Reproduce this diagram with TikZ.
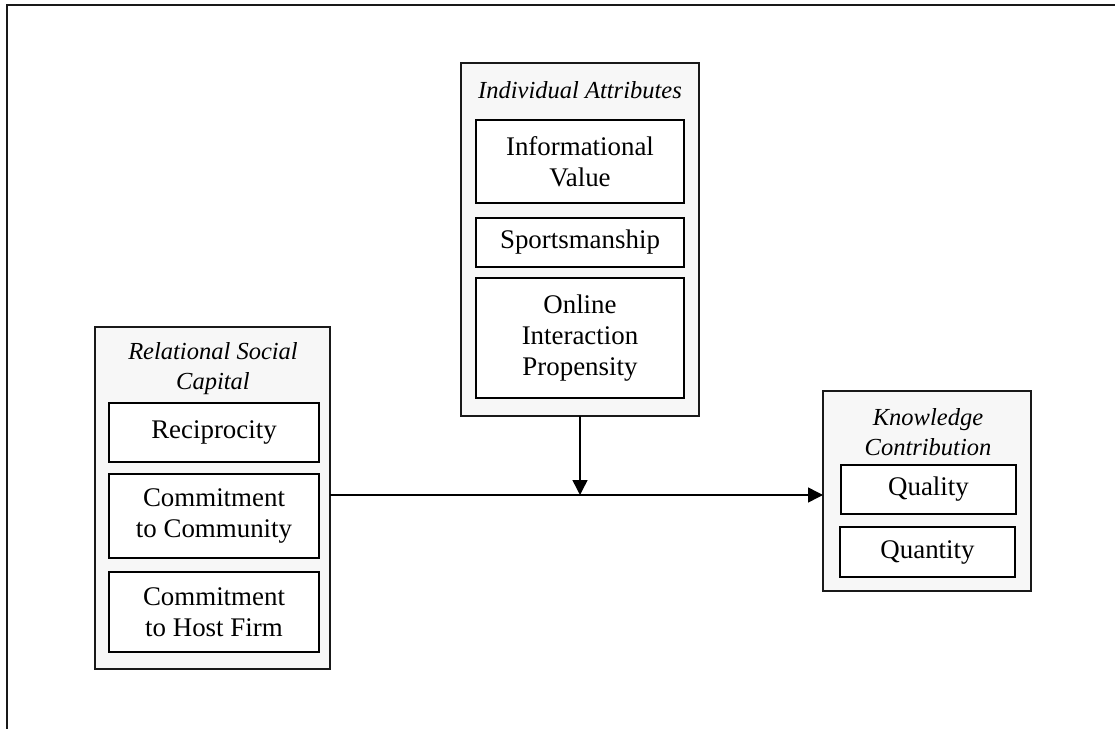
\documentclass[tikz,border=0pt]{standalone}
\usepackage{fontspec}
\setmainfont{Liberation Serif}
\usetikzlibrary{arrows.meta}
\begin{document}
\begin{tikzpicture}[x=1bp,y=-1bp,
  grp/.style={draw=black!90, line width=1.4bp, fill=black!3, inner sep=0pt, outer sep=0pt},
  item/.style={draw=black, line width=1.8bp, fill=white, inner sep=0pt, outer sep=0pt, align=center, font=\fontsize{27}{31.5}\selectfont},
  ttl/.style={align=center, inner sep=0pt, font=\fontsize{24.6}{30}\selectfont\itshape},
  conn/.style={line width=1.5bp, -{Triangle[length=15bp,width=15bp]}},
  frame/.style={line width=2bp, black!90}]
\useasboundingbox (0,0) rectangle (1115,729);
% frame
\coordinate (fTR) at (1115,5.5);
\coordinate (fTL) at (6.5,5.5);
\coordinate (fBL) at (6.5,729);
\draw[frame] (fTR) -- (fTL) -- (fBL);
% Individual attributes
\node[grp, minimum width=238bp, minimum height=353bp] (ia) at (580,239.5) {};
\node[ttl] (iat) at (580,90) {Individual Attributes};
\node[item, minimum width=208bp, minimum height=83bp] (iv) at (580,161.5) {Informational\\Value};
\node[item, minimum width=208bp, minimum height=49bp] (sp) at (580,242.5) {Sportsmanship};
\node[item, minimum width=208bp, minimum height=120bp] (oi) at (580,338) {Online\\Interaction\\Propensity};
% Relational social capital
\node[grp, minimum width=235bp, minimum height=342bp] (rs) at (212.5,498) {};
\node[ttl] (rst) at (213,369) {Relational Social\\Capital};
\node[item, minimum width=210bp, minimum height=59bp] (rc) at (214,432.5) {Reciprocity};
\node[item, minimum width=210bp, minimum height=84bp] (cc) at (214,516) {Commitment\\to Community};
\node[item, minimum width=210bp, minimum height=80bp] (ch) at (214,612) {Commitment\\to Host Firm};
% Knowledge contribution
\node[grp, minimum width=208bp, minimum height=200bp] (kc) at (927,491) {};
\node[ttl] (kct) at (928,432) {Knowledge\\Contribution};
\node[item, minimum width=175bp, minimum height=49bp] (ql) at (928.5,489.5) {Quality};
\node[item, minimum width=175bp, minimum height=50bp] (qn) at (927.5,552) {Quantity};
% connectors
\coordinate (mid) at (580,495);
\draw[conn] (rs.east |- mid) -- (kc.west |- mid);
\draw[conn] (ia.south) -- (mid);
\end{tikzpicture}
\end{document}
